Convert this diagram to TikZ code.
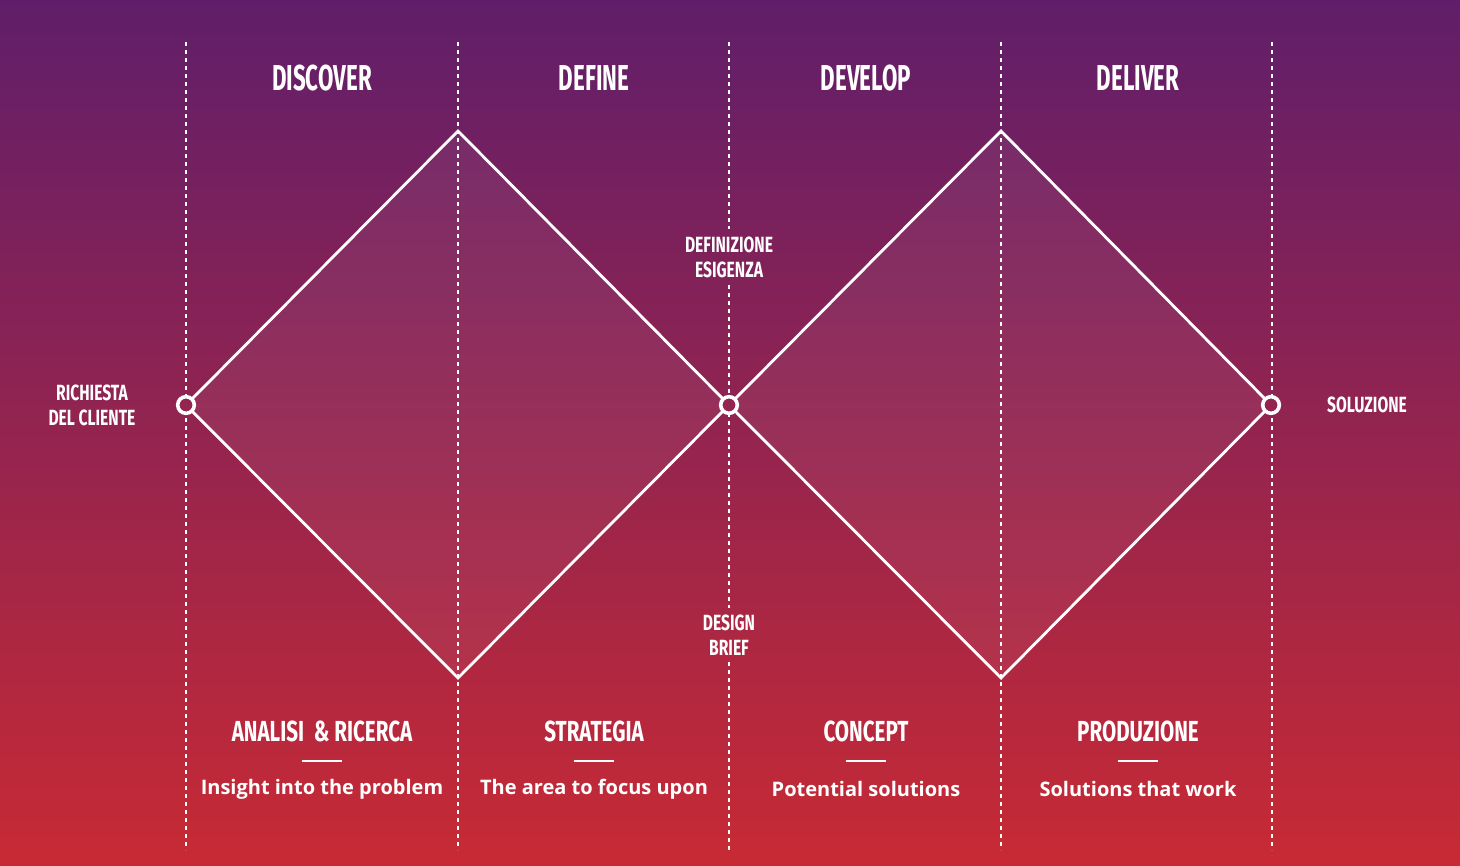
\documentclass[tikz,border=0pt]{standalone}
\usepackage{fontspec}
\setmainfont{Open Sans}
\newfontfamily\headfont[FakeStretch=0.62]{Fira Sans}
\newfontfamily\tagfont[FakeStretch=0.71]{Fira Sans}
\usetikzlibrary{positioning, calc}
\definecolor{bgtop}{RGB}{96,30,106}
\definecolor{bgbot}{RGB}{200,42,52}
\definecolor{bgmid}{RGB}{148,36,80}

\begin{document}
\begin{tikzpicture}[x=0.5pt, y=-0.5pt,
  guide/.style={white, line width=0.7pt, dash pattern=on 2pt off 2pt},
  diam/.style={white, line width=1.4pt, fill=white, fill opacity=0.055, line join=miter},
  hub/.style={circle, draw=white, line width=1.8pt, fill=bgmid, minimum size=8.3pt, inner sep=0pt},
  phase/.style={text=white, font=\headfont\bfseries\fontsize{18}{20}\selectfont},
  tag/.style={text=white, align=center, font=\tagfont\bfseries\fontsize{11}{12.5}\selectfont},
  stage/.style={text=white, font=\tagfont\bfseries\fontsize{14.5}{17}\selectfont},
  note/.style={text=white, font=\bfseries\fontsize{10}{12}\selectfont}]

% Background
\shade[top color=bgtop, bottom color=bgbot] (0,0) rectangle (1460,866);
\useasboundingbox (0,0) rectangle (1460,866);

% Column guides
\foreach \gx [count=\i] in {186,458,1001,1272} {
  \coordinate (g\i t) at (\gx,42);
  \coordinate (g\i b) at (\gx,850);
  \draw[guide] (g\i t) -- (g\i b);
}

% Middle labels on the central guide
\node[tag] (esigenza) at (729,257) {DEFINIZIONE\\ESIGENZA};
\node[tag] (brief) at (729,635) {DESIGN\\BRIEF};
\coordinate (gmt) at (729,42);
\coordinate (gmb) at (729,850);
\draw[guide] (gmt) -- (esigenza);
\draw[guide] (esigenza) -- (brief);
\draw[guide] (brief) -- (gmb);

% Double diamond
\coordinate (top1) at (458,131);
\coordinate (bot1) at (458,678);
\coordinate (top2) at (1001,131);
\coordinate (bot2) at (1001,678);
\coordinate (start) at (186,405);
\coordinate (mid) at (729,405);
\coordinate (end) at (1271,405);
\draw[diam] (start) -- (top1) -- (mid) -- (bot1) -- cycle;
\draw[diam] (mid) -- (top2) -- (end) -- (bot2) -- cycle;
\node[hub] (hubstart) at (start) {};
\node[hub] (hubmid) at (mid) {};
\node[hub] (hubend) at (end) {};

% Side labels
\node[tag] (richiesta) at (92,405) {RICHIESTA\\DEL CLIENTE};
\node[tag] (soluzione) at (1367,405) {SOLUZIONE};

% Phase titles
\node[phase] (discover) at (322,78) {DISCOVER};
\node[phase] (define) at (594,78) {DEFINE};
\node[phase] (develop) at (866,78) {DEVELOP};
\node[phase] (deliver) at (1138,78) {DELIVER};

% Outputs of each phase
\foreach \cx/\nm/\ttl/\sub in {322/analisi/{ANALISI\ \ \& RICERCA}/{Insight into the problem},
    594/strategia/{STRATEGIA}/{The area to focus upon},
    866/concept/{CONCEPT}/{Potential solutions},
    1138/produzione/{PRODUZIONE}/{Solutions that work}} {
  \node[stage] (\nm) at (\cx,731) {\ttl};
  \node[note] (\nm sub) at (\cx,789) {\sub};
  \draw[white, line width=1pt] (\cx-20,761) -- (\cx+20,761);
}
\end{tikzpicture}
\end{document}
